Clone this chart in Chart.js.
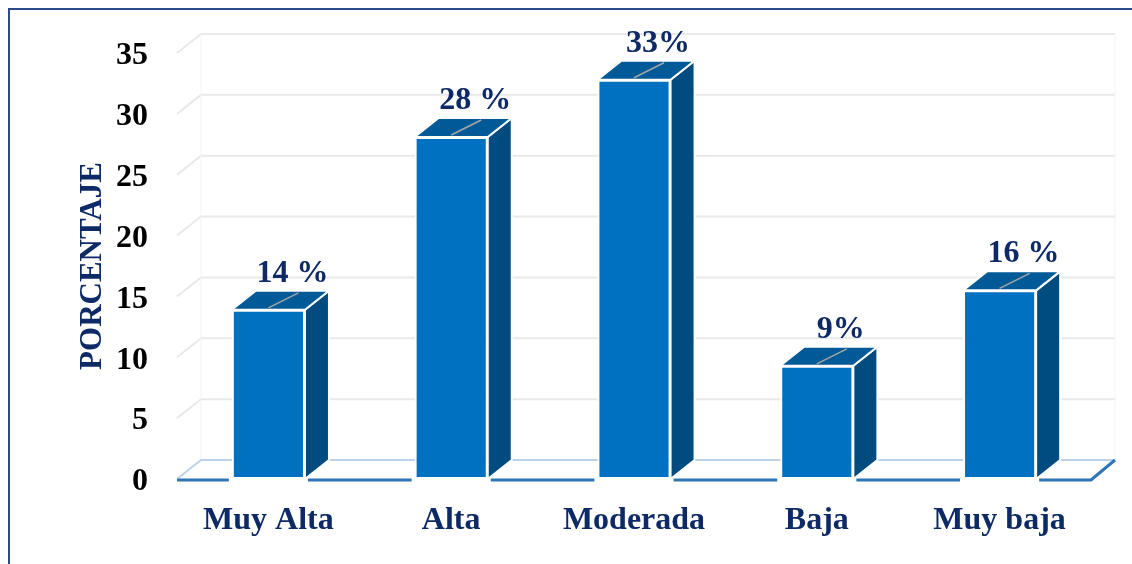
<!DOCTYPE html>
<html>
<head>
<meta charset="utf-8">
<script src="https://cdn.jsdelivr.net/npm/chart.js@4.4.1/dist/chart.umd.min.js"></script>
<style>
  html, body { margin: 0; padding: 0; background: #fff; }
  #wrap { position: relative; width: 1132px; height: 564px; }
  #frame { position: absolute; left: 8px; top: 8px; right: 0; bottom: 0;
           border-left: 2px solid #2b4a8c; border-top: 2px solid #2b4a8c; pointer-events: none; }
</style>
</head>
<body>
<div id="wrap">
  <canvas id="barChart" width="1132" height="564"></canvas>
  <div id="frame"></div>
</div>
<script>
// Data
const categories = ['Muy Alta', 'Alta', 'Moderada', 'Baja', 'Muy baja'];
const porcentajes = [13.9, 28.1, 32.8, 9.3, 15.5];
const etiquetas = ['14 %', '28 %', '33%', '9%', '16 %'];
const yTicks = [0, 5, 10, 15, 20, 25, 30, 35];

const FONT = "'Liberation Serif', 'Times New Roman', serif";
const NAVY = '#0d2a66';
const DX = 24, DY = -19; // 3d depth offset

// draws the walls, the floor and the top/side faces of each bar
const depth3d = {
    id: 'depth3d',
    beforeDatasetsDraw(chart) {
        const {ctx, chartArea: a, scales: {y}} = chart;
        const p0 = y.getPixelForValue(0);
        ctx.save();
        ctx.lineWidth = 2;
        ctx.strokeStyle = '#e9e9e9';
        yTicks.slice(1).forEach(v => {
            const py = y.getPixelForValue(v);
            ctx.beginPath();
            ctx.moveTo(a.left, py);
            ctx.lineTo(a.left + DX, py + DY);
            ctx.lineTo(a.right + DX, py + DY);
            ctx.stroke();
        });
        // faint wall edges
        ctx.strokeStyle = '#f3f3f3';
        ctx.lineWidth = 1;
        ctx.beginPath();
        ctx.moveTo(a.left + DX, y.getPixelForValue(35) + DY);
        ctx.lineTo(a.left + DX, p0 + DY);
        ctx.moveTo(a.right + DX, y.getPixelForValue(35) + DY);
        ctx.lineTo(a.right + DX, p0 + DY);
        ctx.stroke();
        // floor
        ctx.lineWidth = 2;
        ctx.strokeStyle = '#bcd3ec';
        ctx.beginPath();
        ctx.moveTo(a.left, p0);
        ctx.lineTo(a.left + DX, p0 + DY);
        ctx.lineTo(a.right + DX, p0 + DY);
        ctx.stroke();
        ctx.lineWidth = 3;
        ctx.strokeStyle = '#2e75b6';
        ctx.beginPath();
        ctx.moveTo(a.left, p0 + 1);
        ctx.lineTo(a.right, p0 + 1);
        ctx.lineTo(a.right + DX, p0 + DY);
        ctx.stroke();
        ctx.fillStyle = '#fff';
        chart.getDatasetMeta(0).data.forEach(bar => {
            ctx.fillRect(bar.x - bar.width / 2 - 3, p0 - 2, bar.width + 6, 6);
        });
        ctx.restore();
    },
    afterDatasetsDraw(chart) {
        const {ctx} = chart;
        ctx.save();
        ctx.lineWidth = 2;
        ctx.lineJoin = 'round';
        ctx.strokeStyle = '#fff';
        chart.getDatasetMeta(0).data.forEach((bar, i) => {
            const l = bar.x - bar.width / 2, r = bar.x + bar.width / 2;
            const t = bar.y, b = bar.base;
            // side face
            ctx.fillStyle = '#004b80';
            ctx.beginPath();
            ctx.moveTo(r, t);
            ctx.lineTo(r + DX, t + DY);
            ctx.lineTo(r + DX, b + DY);
            ctx.lineTo(r, b);
            ctx.closePath();
            ctx.fill();
            ctx.stroke();
            // top face
            ctx.fillStyle = '#005a98';
            ctx.beginPath();
            ctx.moveTo(l, t);
            ctx.lineTo(l + DX, t + DY);
            ctx.lineTo(r + DX, t + DY);
            ctx.lineTo(r, t);
            ctx.closePath();
            ctx.fill();
            ctx.stroke();
            // leader line
            ctx.save();
            ctx.strokeStyle = '#a6a6a6';
            ctx.lineWidth = 1.5;
            ctx.beginPath();
            ctx.moveTo(bar.x, t - 2);
            ctx.lineTo(bar.x + DX + 6, t + DY + 2);
            ctx.stroke();
            ctx.restore();
            // value label
            ctx.fillStyle = NAVY;
            ctx.font = 'bold 32px ' + FONT;
            ctx.textAlign = 'center';
            ctx.textBaseline = 'alphabetic';
            ctx.fillText(etiquetas[i], bar.x + DX, t - 28);
        });
        ctx.restore();
    }
};

new Chart(document.getElementById('barChart').getContext('2d'), {
    type: 'bar',
    data: {
        labels: categories,
        datasets: [{
            label: 'Porcentaje',
            data: porcentajes,
            backgroundColor: '#0070c0',
            borderColor: '#ffffff',
            borderWidth: 2,
            borderSkipped: false,
            barPercentage: 0.4,
            categoryPercentage: 1
        }]
    },
    options: {
        responsive: false,
        animation: false,
        layout: { padding: { left: 0, top: 53, right: 41, bottom: 0 } },
        plugins: { legend: { display: false }, tooltip: { enabled: false } },
        scales: {
            x: {
                offset: true,
                grid: { display: false },
                border: { display: false },
                ticks: { color: NAVY, padding: 15, font: { family: FONT, size: 32, weight: 'bold' } },
                afterFit(s) { s.height = 85; }
            },
            y: {
                min: 0,
                max: 35,
                grid: { display: false },
                border: { display: false },
                ticks: { stepSize: 5, color: '#000', padding: 21, labelOffset: 3, font: { family: FONT, size: 32, weight: 'bold' } },
                title: {
                    display: true,
                    text: 'PORCENTAJE',
                    color: NAVY,
                    font: { family: FONT, size: 31, weight: 'bold', lineHeight: 1 },
                    padding: { top: 77, bottom: 0 }
                },
                afterFit(s) { s.width = 177; }
            }
        }
    },
    plugins: [depth3d]
});
</script>
</body>
</html>
